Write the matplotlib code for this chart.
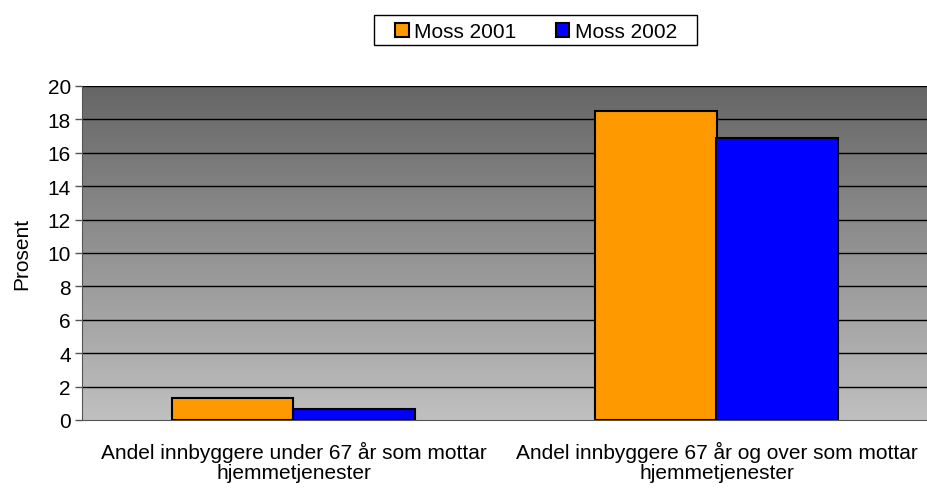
import numpy as np
import matplotlib
matplotlib.use("Agg")
import matplotlib.pyplot as plt
from matplotlib.colors import LinearSegmentedColormap
from matplotlib.patches import Rectangle

plt.rcParams['font.family'] = ['Liberation Sans', 'DejaVu Sans']

# Data
categories = ["Andel innbyggere under 67 år som mottar\nhjemmetjenester",
              "Andel innbyggere 67 år og over som mottar\nhjemmetjenester"]
moss_2001 = [1.3, 18.5]
moss_2002 = [0.65, 16.9]
series_names = ["Moss 2001", "Moss 2002"]
yticks = np.arange(0, 21, 2)

fig = plt.figure(figsize=(9.28, 4.89), dpi=100)
ax = fig.add_axes([82 / 928, 1 - 421 / 489, 846 / 928, 334 / 489])

# gradient background
grad = np.linspace(0, 1, 256).reshape(-1, 1)
cmap = LinearSegmentedColormap.from_list("bg", ["#c0c0c0", "#666666"])
ax.imshow(grad, extent=[0, 2, 0, 20], origin="lower", aspect="auto",
          cmap=cmap, zorder=0)

x = np.arange(len(categories)) + 0.5
w = 0.288
ax.bar(x - w / 2, moss_2001, w, color="#ff9900", edgecolor="black",
       linewidth=1.5, label=series_names[0], zorder=3)
ax.bar(x + w / 2, moss_2002, w, color="#0000ff", edgecolor="black",
       linewidth=1.5, label=series_names[1], zorder=3)

ax.set_xlim(0, 2)
ax.set_ylim(0, 20)
ax.set_yticks(yticks)
ax.set_yticklabels([str(t) for t in yticks], fontsize=15)
ax.set_xticks(x)
ax.set_xticklabels(categories, fontsize=15, linespacing=1.1)
ax.tick_params(axis="x", length=0, pad=15)
ax.tick_params(axis="y", length=5, width=1, color="#555555", pad=3)
ax.set_ylabel("Prosent", fontsize=15, labelpad=12)

for t in yticks[1:]:
    ax.axhline(t, color="black", linewidth=1, zorder=1)

for s in ["top", "right"]:
    ax.spines[s].set_visible(False)
ax.spines["left"].set_color("#555555")
ax.spines["bottom"].set_color("#555555")

# legend: entries without frame, plus a plain box around them
leg = fig.legend(loc="center", bbox_to_anchor=(536 / 928, 1 - 32.5 / 489),
                 ncol=2, fontsize=15, frameon=False, handlelength=0.65,
                 handleheight=0.65, handletextpad=0.25, columnspacing=1.9,
                 borderpad=0, borderaxespad=0)
for h in leg.legend_handles:
    h.set_linewidth(1.5)
fig.patches.append(Rectangle((374 / 928, 1 - 46 / 489), 323 / 928, 30 / 489,
                             transform=fig.transFigure, facecolor="white",
                             edgecolor="black", linewidth=1, zorder=0))

fig.savefig("out.png", dpi=100)
